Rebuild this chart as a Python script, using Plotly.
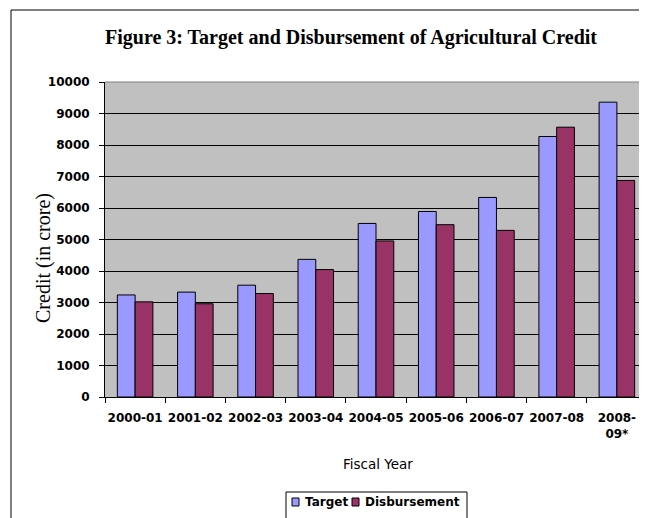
import plotly.graph_objects as go

years = ["2000-01", "2001-02", "2002-03", "2003-04", "2004-05", "2005-06",
         "2006-07", "2007-08", "2008-<br>09*"]
target = [3240, 3330, 3550, 4370, 5510, 5890, 6335, 8270, 9360]
disbursement = [3020, 2960, 3285, 4045, 4955, 5470, 5290, 8565, 6875]
series_names = ["Target", "Disbursement"]
series_colors = ["#9999FF", "#993366"]

# page has an 8px body margin; the figure is sized so that it ends at the window edge
W, H = 639, 510
L, R, T, B = 97, 0, 74, 121
pw = W - L - R
ph = H - T - B

def px_x(x):
    return (x - L) / pw

def px_y(y):
    return (H - B - y) / ph

fig = go.Figure()
for name, vals, col in zip(series_names, [target, disbursement], series_colors):
    fig.add_trace(go.Bar(x=years, y=vals, name=name, showlegend=False,
                         marker=dict(color=col, line=dict(color="black", width=1))))

tickfont = dict(family="DejaVu Sans", size=12, color="black", weight="bold")

annotations = [
    dict(text="Figure 3: Target and Disbursement of Agricultural Credit",
         xref="paper", yref="paper", x=px_x(343), y=px_y(29),
         xanchor="center", yanchor="middle", showarrow=False,
         font=dict(family="Liberation Serif, Times New Roman", size=20,
                   color="black", weight="bold")),
    dict(text="Fiscal Year", xref="paper", yref="paper", x=px_x(370), y=px_y(456),
         xanchor="center", yanchor="middle", showarrow=False,
         font=dict(family="DejaVu Sans", size=13.5, color="black")),
    dict(text="Credit (in crore)", xref="paper", yref="paper", x=px_x(35), y=px_y(250),
         xanchor="center", yanchor="middle", showarrow=False, textangle=-90,
         font=dict(family="Liberation Serif, Times New Roman", size=20, color="black")),
]

shapes = [
    dict(type="rect", xref="paper", yref="paper",
         x0=px_x(3), x1=px_x(700), y0=px_y(600), y1=px_y(2),
         line=dict(color="black", width=1), layer="below"),
    dict(type="line", xref="paper", yref="paper", x0=0, x1=1, y0=1, y1=1,
         line=dict(color="#808080", width=1)),
    # legend box
    dict(type="rect", xref="paper", yref="paper",
         x0=px_x(278), x1=px_x(459), y0=px_y(540), y1=px_y(484),
         line=dict(color="black", width=1), fillcolor="white"),
]

legend_sq_x = [284, 344]
legend_txt_x = [295, 355]
for name, col, sx, tx in zip(series_names, series_colors, legend_sq_x, legend_txt_x):
    shapes.append(dict(type="rect", xref="paper", yref="paper",
                       x0=px_x(sx), x1=px_x(sx + 7), y0=px_y(498), y1=px_y(490),
                       line=dict(color="black", width=1), fillcolor=col))
    annotations.append(dict(text=name, xref="paper", yref="paper",
                            x=px_x(tx), y=px_y(494), xanchor="left", yanchor="middle",
                            showarrow=False,
                            font=dict(family="DejaVu Sans", size=12, color="black",
                                      weight="bold")))

fig.update_layout(
    width=W, height=H,
    margin=dict(l=L, r=R, t=T, b=B, autoexpand=False),
    paper_bgcolor="white",
    plot_bgcolor="#C0C0C0",
    barmode="group",
    bargap=0.41,
    bargroupgap=0,
    showlegend=False,
    xaxis=dict(type="category", tickson="boundaries", ticks="outside", ticklen=5,
               tickcolor="black", showline=True, linecolor="black", linewidth=1,
               tickfont=tickfont, showgrid=False, ticklabelstandoff=10, tickangle=0),
    yaxis=dict(range=[0, 10000], dtick=1000, tickformat="d", ticks="outside", ticklen=5,
               tickcolor="black", showline=True, linecolor="black", linewidth=1,
               showgrid=True, gridcolor="black", gridwidth=1, tickfont=tickfont,
               zeroline=False, ticklabelstandoff=7),
    annotations=annotations,
    shapes=shapes,
)

fig.write_html("out.html")
